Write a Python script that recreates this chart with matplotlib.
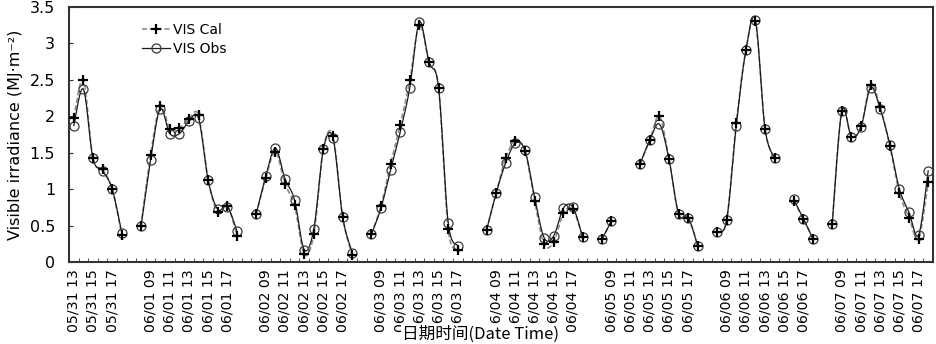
import numpy as np
import matplotlib
matplotlib.use("Agg")
import matplotlib.pyplot as plt
from matplotlib.lines import Line2D

plt.rcParams["font.family"] = ["DejaVu Sans"]

# categories: one blank slot between days
days = ["05/31", "06/01", "06/02", "06/03", "06/04", "06/05", "06/06", "06/07"]
first_day_hours = ["13", "14", "15", "16", "17", "18"]
day_hours = ["08", "09", "10", "11", "12", "13", "14", "15", "16", "17", "18"]
label_hours = {"09", "11", "13", "15", "17"}

# hourly visible irradiance (MJ m-2), None = no data
cal_0531 = [1.98, 2.49, 1.42, 1.27, 1.00, 0.37]
obs_0531 = [1.87, 2.37, 1.42, 1.25, 1.00, 0.40]
cal_0601 = [0.49, 1.47, 2.14, 1.83, 1.84, 1.96, 2.01, 1.12, 0.69, 0.77, 0.36]
obs_0601 = [0.49, 1.40, 2.10, 1.76, 1.76, 1.93, 1.97, 1.12, 0.72, 0.76, 0.42]
cal_0602 = [0.66, 1.15, 1.51, 1.07, 0.78, 0.11, 0.38, 1.55, 1.73, 0.62, 0.10]
obs_0602 = [0.66, 1.18, 1.56, 1.14, 0.85, 0.17, 0.45, 1.55, 1.70, 0.62, 0.13]
cal_0603 = [0.38, 0.77, 1.34, 1.88, 2.49, 3.25, 2.74, 2.39, 0.45, 0.17, None]
obs_0603 = [0.38, 0.74, 1.26, 1.78, 2.39, 3.29, 2.74, 2.39, 0.54, 0.22, None]
cal_0604 = [0.44, 0.95, 1.43, 1.66, 1.52, 0.84, 0.24, 0.28, 0.67, 0.72, 0.34]
obs_0604 = [0.44, 0.95, 1.36, 1.63, 1.53, 0.89, 0.33, 0.36, 0.74, 0.75, 0.34]
cal_0605 = [0.31, 0.56, None, None, 1.35, 1.67, 2.00, 1.41, 0.66, 0.61, 0.22]
obs_0605 = [0.31, 0.56, None, None, 1.35, 1.67, 1.89, 1.41, 0.66, 0.61, 0.22]
cal_0606 = [0.41, 0.57, 1.90, 2.90, 3.30, 1.83, 1.42, None, 0.84, 0.59, 0.32]
obs_0606 = [0.41, 0.57, 1.86, 2.90, 3.32, 1.83, 1.42, None, 0.86, 0.59, 0.32]
cal_0607 = [0.52, 2.07, 1.72, 1.86, 2.43, 2.12, 1.59, 0.95, 0.61, 0.32, 1.10]
obs_0607 = [0.52, 2.07, 1.72, 1.85, 2.39, 2.10, 1.61, 1.00, 0.68, 0.37, 1.25]

cal_days = [cal_0531, cal_0601, cal_0602, cal_0603, cal_0604, cal_0605, cal_0606, cal_0607]
obs_days = [obs_0531, obs_0601, obs_0602, obs_0603, obs_0604, obs_0605, obs_0606, obs_0607]

labels, cal, obs = [], [], []
for i, d in enumerate(days):
    hrs = first_day_hours if i == 0 else day_hours
    if i > 0:
        labels.append("")
        cal.append(None)
        obs.append(None)
    for h, c, o in zip(hrs, cal_days[i], obs_days[i]):
        labels.append(f"{d} {h}" if h in label_hours else "")
        cal.append(c)
        obs.append(o)

x = np.arange(len(labels), dtype=float)
cal = np.array([np.nan if v is None else v for v in cal])
obs = np.array([np.nan if v is None else v for v in obs])


def smooth(xs, ys, n=16):
    # excel-like smoothed line: bezier through the points, per data run
    out_x, out_y = [], []
    ok = ~np.isnan(ys)
    idx = np.where(ok)[0]
    runs = np.split(idx, np.where(np.diff(idx) > 1)[0] + 1)
    for r in runs:
        px, py = xs[r], ys[r]
        if len(r) < 2:
            continue
        t = np.linspace(0, 1, n)
        for k in range(len(r) - 1):
            p0 = k - 1 if k > 0 else k
            p3 = k + 2 if k + 2 < len(r) else k + 1
            c1x = px[k] + (px[k + 1] - px[p0]) / 6
            c1y = py[k] + (py[k + 1] - py[p0]) / 6
            c2x = px[k + 1] - (px[p3] - px[k]) / 6
            c2y = py[k + 1] - (py[p3] - py[k]) / 6
            bx = ((1 - t) ** 3 * px[k] + 3 * (1 - t) ** 2 * t * c1x
                  + 3 * (1 - t) * t ** 2 * c2x + t ** 3 * px[k + 1])
            by = ((1 - t) ** 3 * py[k] + 3 * (1 - t) ** 2 * t * c1y
                  + 3 * (1 - t) * t ** 2 * c2y + t ** 3 * py[k + 1])
            out_x.extend(bx)
            out_y.extend(by)
        out_x.append(np.nan)
        out_y.append(np.nan)
    return np.array(out_x), np.array(out_y)


fig = plt.figure(figsize=(9.36, 3.44), dpi=100)
ax = fig.add_axes([0.0737, 0.2384, 0.9231, 0.742])

sx, sy = smooth(x, cal)
ax.plot(sx, sy, color="#8c8c8c", lw=1.2, ls=(0, (3, 1.5)), zorder=2)
sx, sy = smooth(x, obs)
ax.plot(sx, sy, color="#1a1a1a", lw=0.9, zorder=3)
ax.plot(x, obs, ls="none", marker="o", ms=6.5, mfc="none", mec="#3a3a3a",
        mew=0.9, zorder=4)
ax.plot(x, cal, ls="none", marker="+", ms=7, mec="black", mew=1.6, zorder=5)

ax.set_xlim(-0.5, len(labels) - 0.5)
ax.set_ylim(0, 3.5)
ax.set_yticks(np.arange(0, 3.51, 0.5))
ax.set_yticklabels([f"{v:g}" for v in np.arange(0, 3.51, 0.5)], fontsize=11.5)
ax.tick_params(axis="y", direction="in", length=3, pad=10, color="#333333")

ax.set_xticks(x)
ax.set_xticklabels(labels, rotation=90, fontsize=10.2)
ax.tick_params(axis="x", which="major", length=0, pad=5)
ax.set_xticks(np.arange(-0.5, len(labels), 1), minor=True)
ax.tick_params(axis="x", which="minor", direction="in", length=3, color="#333333")

for s in ax.spines.values():
    s.set_linewidth(1.5)
    s.set_color("#333333")

ax.set_ylabel("Visible irradiance (MJ·m⁻²)", fontsize=11.5, labelpad=5)
fig.text(0.513, 0.004, "日期时间(Date Time)", ha="center", va="bottom",
         fontsize=12, family=["Noto Sans CJK SC", "DejaVu Sans"],
         bbox=dict(facecolor="white", edgecolor="none", pad=0.5))

handles = [
    Line2D([], [], color="#8c8c8c", lw=1.2, ls=(0, (3, 1.5)), marker="+",
           ms=7, mec="black", mew=1.6),
    Line2D([], [], color="#1a1a1a", lw=0.9, marker="o", ms=6.5, mfc="none",
           mec="#3a3a3a", mew=0.9),
]
ax.legend(handles, ["VIS Cal", "VIS Obs"], loc="upper left",
          bbox_to_anchor=(0.085, 0.935), frameon=False, fontsize=10,
          handlelength=2.0, handletextpad=0.2, labelspacing=0.3,
          borderpad=0, borderaxespad=0, numpoints=1)

fig.savefig("out.png", dpi=100)
